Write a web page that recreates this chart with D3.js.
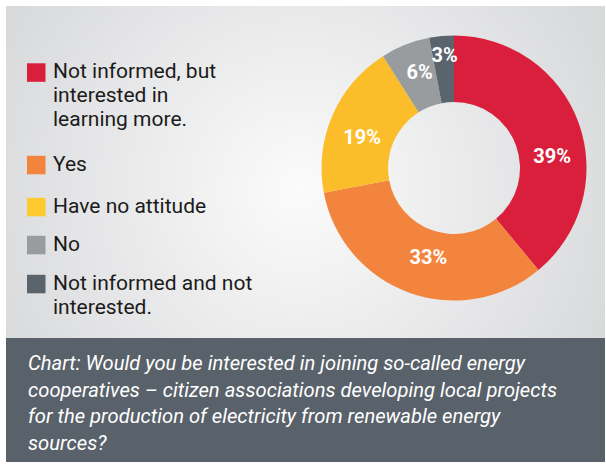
<!DOCTYPE html>
<html>
<head>
<meta charset="utf-8">
<script src="https://cdn.jsdelivr.net/npm/d3@7"></script>
<style>
  html, body { margin: 0; padding: 0; background: #ffffff; }
  svg { display: block; }
</style>
</head>
<body>
<svg id="chart" width="606" height="468"></svg>
<script>
// Survey answers, in drawing order (clockwise from 12 o'clock)
const categories = [
  "Not informed, but interested in learning more.",
  "Yes",
  "Have no attitude",
  "No",
  "Not informed and not interested."
];
const legendLines = [
  ["Not informed, but", "interested in", "learning more."],
  ["Yes"],
  ["Have no attitude"],
  ["No"],
  ["Not informed and not", "interested."]
];
const values = [39, 33, 19, 6, 3];
const sliceColors = ["#da1f3d", "#f3843e", "#fcbd2b", "#999c9f", "#5a646c"];
const legendColors = ["#da1f3d", "#f3843e", "#ffca2f", "#999c9f", "#5a646c"];
const captionLines = [
  "Chart: Would you be interested in joining so-called energy",
  "cooperatives \u2013 citizen associations developing local projects",
  "for the production of electricity from renewable energy",
  "sources?"
];

const svg = d3.select("#chart");
const defs = svg.append("defs");

// soft radial shading of the upper panel
const grad = defs.append("radialGradient")
  .attr("id", "panelShade")
  .attr("gradientUnits", "userSpaceOnUse")
  .attr("cx", 300).attr("cy", 190).attr("r", 330);
grad.append("stop").attr("offset", "0%").attr("stop-color", "#fbfbfb");
grad.append("stop").attr("offset", "100%").attr("stop-color", "#d9dadc");

svg.append("rect")
  .attr("x", 6).attr("y", 6).attr("width", 599).attr("height", 332)
  .attr("fill", "url(#panelShade)");

// donut
const cx = 454, cy = 168, outerR = 132.5, innerR = 66;
const pie = d3.pie().sort(null).value(d => d);
const arc = d3.arc().innerRadius(innerR).outerRadius(outerR);
const labelArc = d3.arc().innerRadius(99).outerRadius(99);
const arcs = pie(values);

const g = svg.append("g").attr("transform", `translate(${cx},${cy})`);
g.selectAll("path.slice")
  .data(arcs)
  .join("path")
  .attr("class", "slice")
  .attr("d", arc)
  .attr("fill", (d, i) => sliceColors[i]);

// small nudges so labels sit clear of the slice edges
const labelNudge = [[5, 22], [8, -4], [-1, 8], [2, -3.5], [0, -14]];
g.selectAll("text.pct")
  .data(arcs)
  .join("text")
  .attr("class", "pct")
  .attr("x", (d, i) => labelArc.centroid(d)[0] + labelNudge[i][0])
  .attr("y", (d, i) => labelArc.centroid(d)[1] + labelNudge[i][1])
  .attr("dy", "0.35em")
  .attr("text-anchor", "middle")
  .attr("fill", "#ffffff")
  .attr("font-family", "Roboto, sans-serif")
  .attr("font-weight", 700)
  .attr("font-size", 20)
  .text(d => d.data + "%");

// legend
const lineH = 24;
const itemGaps = [20.5, 18, 14, 15];
let baseline = 78.3;
const legend = svg.append("g");
legendLines.forEach((lines, i) => {
  const item = legend.append("g").datum(categories[i]);
  item.append("rect")
    .attr("x", 27).attr("y", baseline - 15)
    .attr("width", 18.5).attr("height", 18.5)
    .attr("fill", legendColors[i]);
  const t = item.append("text")
    .attr("x", 53).attr("y", baseline)
    .attr("fill", "#1b1b1b")
    .attr("font-family", "Roboto, sans-serif")
    .attr("font-size", 21);
  lines.forEach((ln, j) => {
    t.append("tspan").attr("x", 53).attr("dy", j === 0 ? 0 : lineH).text(ln);
  });
  baseline += lines.length * lineH + (itemGaps[i] || 0);
});

// caption box
svg.append("rect")
  .attr("x", 6).attr("y", 338).attr("width", 599).attr("height", 124)
  .attr("fill", "#59616a");
const cap = svg.append("text")
  .attr("x", 28).attr("y", 370)
  .attr("fill", "#ffffff")
  .attr("font-family", "Roboto, sans-serif")
  .attr("font-style", "italic")
  .attr("font-size", 20.2);
captionLines.forEach((ln, j) => {
  cap.append("tspan").attr("x", 28).attr("dy", j === 0 ? 0 : 26.5).text(ln);
});
</script>
</body>
</html>
